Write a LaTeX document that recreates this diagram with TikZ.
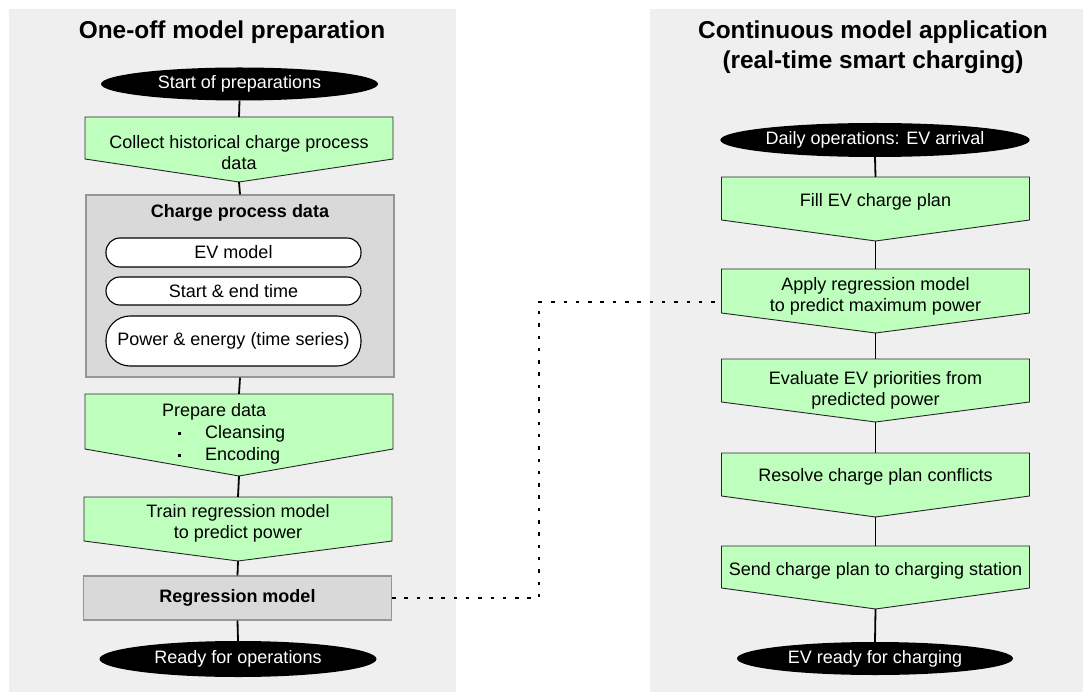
\documentclass[tikz,border=0pt]{standalone}
\usepackage{fontspec}
\setmainfont{Liberation Sans}
\usetikzlibrary{shapes.geometric,calc}
\pgfdeclarelayer{panel}
\pgfdeclarelayer{bg}
\pgfsetlayers{panel,bg,main}
\definecolor{panelgray}{RGB}{239,239,239}
\definecolor{boxgray}{RGB}{217,217,217}
\definecolor{boxborder}{RGB}{150,150,150}
\definecolor{procgreen}{RGB}{190,255,190}
\tikzset{
  body/.style={font=\fontsize{18}{21}\selectfont, text=black, align=center, inner sep=0pt},
  titletext/.style={font=\fontsize{24.4}{30}\selectfont\bfseries, align=center, inner sep=0pt},
  terminal/.style={ellipse, fill=black, text=white, font=\fontsize{18}{21}\selectfont, inner sep=0pt, minimum width=277pt},
  procshape/.style={fill=procgreen, draw=black!85, line width=0.9pt, line join=miter},
  databox/.style={rectangle, fill=boxgray, draw=boxborder, line width=1.2pt, inner sep=0pt},
  pill/.style={rectangle, fill=white, draw=black, line width=1.1pt, minimum width=255pt, inner sep=0pt, font=\fontsize{18}{21}\selectfont},
  link/.style={draw=black, line width=1.8pt},
  dotlink/.style={draw=black, line width=2.3pt, dash pattern=on 3.5pt off 8.8pt},
  panelbg/.style={fill=panelgray, draw=none}
}
\newcommand\procbox[7]{%
  \node[body] (#1) at (#2,#6) {#7};
  \coordinate (#1-top) at (#2,#3);
  \coordinate (#1-tip) at (#2,#5);
  \begin{pgfonlayer}{bg}
  \path[procshape] (#2-154,#3) -- (#2+154,#3) -- (#2+154,#4) -- (#2,#5) -- (#2-154,#4) -- cycle;
  \end{pgfonlayer}}
\begin{document}
\begin{tikzpicture}[x=1pt,y=-1pt]
\useasboundingbox (0,0) rectangle (1083,692);
\begin{pgfonlayer}{panel}
\path[panelbg] (9,9) rectangle (456,692);
\path[panelbg] (650,9) rectangle (1083,692);
\end{pgfonlayer}

% titles
\node[titletext] (ltitle) at (232,32) {One-off model preparation};
\node[titletext] (rtitle) at (873,47) {Continuous model application\\(real-time smart charging)};

% left column
\node[terminal, minimum height=33pt] (start) at (239.5,84) {Start of preparations};
\procbox{collect}{239}{117}{159}{182}{152.5}{Collect historical charge process\\data}
\node[databox, minimum width=308pt, minimum height=182pt] (cpd) at (240,286) {};
\node[body, font=\fontsize{18}{21}\selectfont\bfseries] (cpdtitle) at (240,213) {Charge process data};
\node[pill, minimum height=29pt, rounded corners=14pt] (evmodel) at (233.5,252.5) {EV model};
\node[pill, minimum height=28pt, rounded corners=14pt] (startend) at (233.5,291) {Start \& end time};
\node[pill, minimum height=50pt, rounded corners=24pt] (power) at (233.5,341) {Power \& energy (time series)};
\procbox{prep}{239}{394}{449}{476}{434}{}
\node[body, align=left, anchor=west, font=\fontsize{18}{22}\selectfont] (preptext) at (162,434) {Prepare data\\\hspace*{16pt}\rule[4pt]{3pt}{3pt}\hspace*{24pt}Cleansing\\\hspace*{16pt}\rule[4pt]{3pt}{3pt}\hspace*{24pt}Encoding};
\procbox{train}{238}{497}{541}{561}{523}{Train regression model\\to predict power}
\node[databox, minimum width=308pt, minimum height=44pt, font=\fontsize{18}{21}\selectfont\bfseries] (reg) at (237.5,598) {Regression model};
\node[terminal, minimum height=36pt] (ready) at (238,659) {Ready for operations};

\draw[link] (start.south) -- (collect-top);
\draw[link] (collect-tip) -- (cpd.north);
\draw[link] (cpd.south) -- (prep-top);
\draw[link] (prep-tip) -- (train-top);
\draw[link] (train-tip) -- (reg.north);
\draw[link] (reg.south) -- (ready.north);

% right column
\node[terminal, minimum height=34pt, minimum width=276pt] (daily) at (875,140) {Daily operations: EV arrival};
\procbox{fill}{875.5}{177}{220}{241}{202}{Fill EV charge plan}
\procbox{apply}{875.5}{269}{313}{333}{296.5}{Apply regression model\\to predict maximum power}
\procbox{eval}{875.5}{359}{402}{422}{390}{Evaluate EV priorities from\\predicted power}
\procbox{resolve}{875.5}{453}{496}{517}{477}{Resolve charge plan conflicts}
\procbox{send}{875.5}{546}{588}{609}{571}{Send charge plan to charging station}
\node[terminal, minimum height=33pt, minimum width=276pt] (evready) at (875,658.5) {EV ready for charging};

\draw[link] (daily.south) -- (fill-top);
\draw[link] (fill-tip) -- (apply-top);
\draw[link] (apply-tip) -- (eval-top);
\draw[link] (eval-tip) -- (resolve-top);
\draw[link] (resolve-tip) -- (send-top);
\draw[link] (send-tip) -- (evready.north);

% dotted link
\coordinate (bend) at (539,302);
\coordinate (applyin) at (721.5,302);
\draw[dotlink] (reg.east) -| (bend) -- (applyin);
\end{tikzpicture}
\end{document}
